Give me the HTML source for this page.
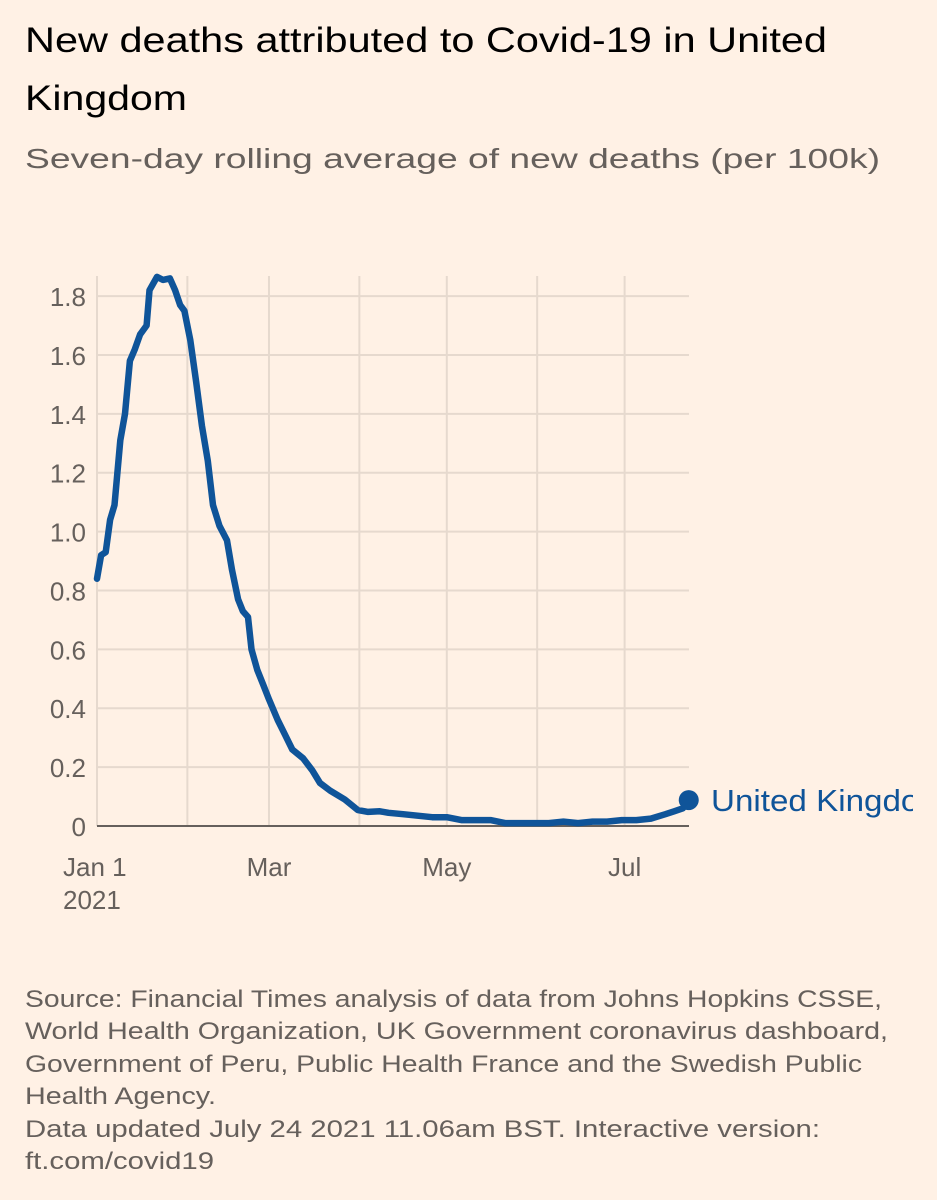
<!DOCTYPE html>
<html><head><meta charset="utf-8"><style>
html,body{margin:0;padding:0;background:#fff1e5;}
svg{display:block;font-family:"Liberation Sans",sans-serif;}
</style></head><body>
<svg width="937" height="1200" viewBox="0 0 937 1200">
<rect width="937" height="1200" fill="#fff1e5"/>
<text x="25" y="52" font-size="35" fill="#000" textLength="802" lengthAdjust="spacingAndGlyphs">New deaths attributed to Covid-19 in United</text>
<text x="25" y="110" font-size="35" fill="#000" textLength="162" lengthAdjust="spacingAndGlyphs">Kingdom</text>
<text x="25" y="168" font-size="28" fill="#66605c" textLength="855" lengthAdjust="spacingAndGlyphs">Seven-day rolling average of new deaths (per 100k)</text>
<g id="grid"></g>
<g id="yt"></g>
<g id="xt"></g>
<g id="series"></g>
<svg x="0" y="0" width="913" height="1200" overflow="hidden">
<text id="lbl" x="711" y="810" font-size="31" fill="#0f5499" textLength="236" lengthAdjust="spacingAndGlyphs">United Kingdom</text>
</svg>
<g font-size="24" fill="#66605c">
<text x="25" y="1007" textLength="857" lengthAdjust="spacingAndGlyphs">Source: Financial Times analysis of data from Johns Hopkins CSSE,</text>
<text x="25" y="1039" textLength="863" lengthAdjust="spacingAndGlyphs">World Health Organization, UK Government coronavirus dashboard,</text>
<text x="25" y="1072" textLength="837" lengthAdjust="spacingAndGlyphs">Government of Peru, Public Health France and the Swedish Public</text>
<text x="25" y="1104" textLength="191" lengthAdjust="spacingAndGlyphs">Health Agency.</text>
<text x="25" y="1137" textLength="795" lengthAdjust="spacingAndGlyphs">Data updated July 24 2021 11.06am BST. Interactive version:</text>
<text x="25" y="1169" textLength="189" lengthAdjust="spacingAndGlyphs">ft.com/covid19</text>
</g>
</svg>
<script>
const yTicks=[0,0.2,0.4,0.6,0.8,1.0,1.2,1.4,1.6,1.8];
const yTickLabels=["0","0.2","0.4","0.6","0.8","1.0","1.2","1.4","1.6","1.8"];
const monthDays=[31,59,90,120,151,181];
const xTickDays=[0,59,120,181];
const xTickLabels=["Jan 1","Mar","May","Jul"];
const days=[0,1.4,3,4.5,6,8,9.6,11.3,13,14.8,17,18,20.6,22.6,25,26.8,28.5,30,32,34,36,38,39.8,42,44.6,46.3,48.4,50,51.8,53,55,57,59,62,64.5,67,70.7,73.8,76.5,80,85,89.5,93,97,100,105,110,115,120,125,130,135,140,145,150,155,160,165,170,175,180,185,190,195,198,201,203];
const values=[0.84,0.92,0.93,1.04,1.09,1.31,1.40,1.58,1.62,1.67,1.70,1.82,1.865,1.855,1.86,1.82,1.77,1.75,1.65,1.51,1.36,1.24,1.09,1.02,0.97,0.87,0.77,0.73,0.71,0.60,0.53,0.48,0.43,0.36,0.31,0.26,0.23,0.19,0.146,0.12,0.09,0.054,0.048,0.05,0.045,0.04,0.035,0.03,0.03,0.02,0.02,0.02,0.01,0.01,0.01,0.01,0.015,0.01,0.015,0.015,0.02,0.02,0.025,0.04,0.05,0.06,0.088];
const NS="http://www.w3.org/2000/svg";
const X0=97,PX=2.915,Y0=826,PY=294.4,XR=689;
const xS=d=>X0+d*PX, yS=v=>Y0-v*PY;
function mk(t,a,p){const e=document.createElementNS(NS,t);for(const k in a)e.setAttribute(k,a[k]);p.appendChild(e);return e;}
const grid=document.getElementById('grid'),yt=document.getElementById('yt'),xt=document.getElementById('xt'),ser=document.getElementById('series');
yTicks.forEach((v,i)=>{
 if(v>0){const l=mk('line',{x1:X0,x2:XR,y1:yS(v),y2:yS(v),stroke:'#e6d9ce','stroke-width':2},grid);
 
 }
 const t=mk('text',{x:86,y:yS(v)+10,'text-anchor':'end','font-size':26,fill:'#66605c'},yt);
 t.textContent=yTickLabels[i];
 
 
});
[0].concat(monthDays).forEach(d=>{
 const l=mk('line',{x1:xS(d),x2:xS(d),y1:276,y2:Y0,stroke:'#e6d9ce','stroke-width':2},grid);
 
 
});
const base=mk('line',{x1:X0,x2:XR,y1:Y0,y2:Y0,stroke:'#66605c','stroke-width':2},grid);


xTickDays.forEach((d,i)=>{
 const t=mk('text',{x:d===0?63:xS(d),y:876,'text-anchor':d===0?'start':'middle','font-size':26,fill:'#66605c'},xt);
 t.textContent=xTickLabels[i];
 
 
});
const yr=mk('text',{x:63,y:909,'font-size':26,fill:'#66605c'},xt);
yr.textContent='2021';


const pts=days.map((d,i)=>xS(d).toFixed(1)+','+yS(values[i]).toFixed(1)).join(' ');
const pl=mk('polyline',{points:pts,fill:'none',stroke:'#0f5499','stroke-width':6.5,'stroke-linejoin':'round','stroke-linecap':'round'},ser);


const n=days.length-1;
const dot=mk('circle',{cx:xS(days[n]),cy:yS(values[n]),r:10,fill:'#0f5499'},ser);


document.getElementById('lbl').setAttribute('y',yS(values[n])+11);
</script>
</body></html>
